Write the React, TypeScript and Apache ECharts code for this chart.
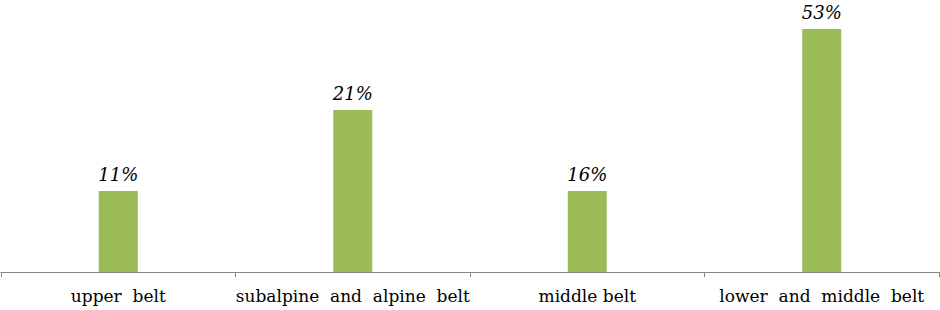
import React, { useEffect, useRef } from "react";
import * as echarts from "echarts";

const categories = ["upper  belt", "subalpine  and  alpine  belt", "middle belt", "lower  and  middle  belt"];
const barHeights = [1, 2, 1, 3];
const pctLabels = ["11%", "21%", "16%", "53%"];

const SERIF = "DejaVu Serif";

export default function App() {
  const ref = useRef<HTMLDivElement>(null);
  useEffect(() => {
    if (!ref.current) return;
    const chart = echarts.init(ref.current, undefined, { renderer: "svg" });
    chart.setOption({
      animation: false,
      backgroundColor: "#ffffff",
      grid: { left: 1, right: 1, top: 29, bottom: 38, containLabel: false },
      xAxis: {
        type: "category",
        data: categories,
        axisLine: { show: true, lineStyle: { color: "#868686", width: 1 } },
        axisTick: { show: true, length: 5, lineStyle: { color: "#868686" } },
        axisLabel: {
          color: "#000000",
          fontFamily: SERIF,
          fontSize: 17,
          margin: 15,
          interval: 0,
        },
      },
      yAxis: {
        type: "value",
        min: 0,
        max: 3,
        show: false,
        splitLine: { show: false },
      },
      series: [
        {
          type: "bar",
          data: barHeights,
          barWidth: 39,
          itemStyle: { color: "#9BBB59" },
          label: {
            show: true,
            position: "top",
            distance: 8,
            color: "#000000",
            fontFamily: SERIF,
            fontStyle: "italic",
            fontSize: 18,
            formatter: (p: any) => pctLabels[p.dataIndex],
          },
        },
      ],
    });
    return () => chart.dispose();
  }, []);
  return (
    <div
      ref={ref}
      style={{ position: "fixed", left: 0, top: 0, width: 940, height: 310, background: "#fff" }}
    />
  );
}
